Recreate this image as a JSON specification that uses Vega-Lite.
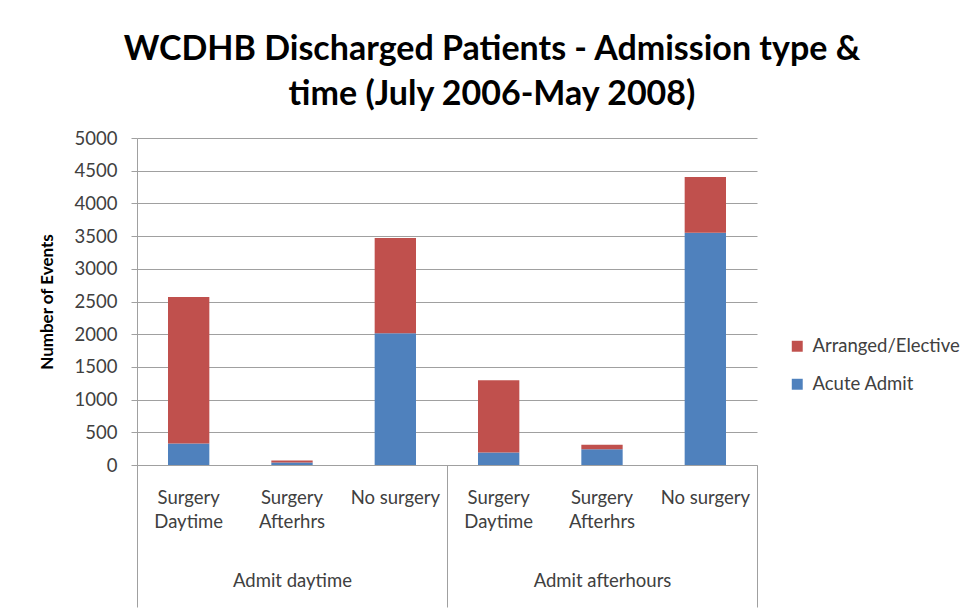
{
  "$schema": "https://vega.github.io/schema/vega-lite/v6.json",
  "width": 620,
  "height": 327,
  "autosize": {"type": "none"},
  "padding": {"left": 137, "top": 138, "right": 214, "bottom": 147},
  "background": "white",
  "config": {
    "font": "Lato",
    "view": {"stroke": null}
  },
  "title": {
    "text": ["WCDHB Discharged Patients - Admission type &", "time (July 2006-May 2008)"],
    "font": "Lato",
    "fontSize": 34,
    "fontWeight": "bold",
    "color": "#000000",
    "anchor": "middle",
    "frame": "group",
    "dx": 45,
    "offset": 17,
    "lineHeight": 45
  },
  "data": {
    "values": [
      {"admit": "Admit daytime", "surgery": "Surgery Daytime", "slot": "Admit daytime / Surgery Daytime", "type": "Acute Admit", "events": 330},
      {"admit": "Admit daytime", "surgery": "Surgery Daytime", "slot": "Admit daytime / Surgery Daytime", "type": "Arranged/Elective", "events": 2240},
      {"admit": "Admit daytime", "surgery": "Surgery Afterhrs", "slot": "Admit daytime / Surgery Afterhrs", "type": "Acute Admit", "events": 40},
      {"admit": "Admit daytime", "surgery": "Surgery Afterhrs", "slot": "Admit daytime / Surgery Afterhrs", "type": "Arranged/Elective", "events": 30},
      {"admit": "Admit daytime", "surgery": "No surgery", "slot": "Admit daytime / No surgery", "type": "Acute Admit", "events": 2015},
      {"admit": "Admit daytime", "surgery": "No surgery", "slot": "Admit daytime / No surgery", "type": "Arranged/Elective", "events": 1455},
      {"admit": "Admit afterhours", "surgery": "Surgery Daytime", "slot": "Admit afterhours / Surgery Daytime", "type": "Acute Admit", "events": 190},
      {"admit": "Admit afterhours", "surgery": "Surgery Daytime", "slot": "Admit afterhours / Surgery Daytime", "type": "Arranged/Elective", "events": 1105},
      {"admit": "Admit afterhours", "surgery": "Surgery Afterhrs", "slot": "Admit afterhours / Surgery Afterhrs", "type": "Acute Admit", "events": 240},
      {"admit": "Admit afterhours", "surgery": "Surgery Afterhrs", "slot": "Admit afterhours / Surgery Afterhrs", "type": "Arranged/Elective", "events": 70},
      {"admit": "Admit afterhours", "surgery": "No surgery", "slot": "Admit afterhours / No surgery", "type": "Acute Admit", "events": 3550},
      {"admit": "Admit afterhours", "surgery": "No surgery", "slot": "Admit afterhours / No surgery", "type": "Arranged/Elective", "events": 855}
    ]
  },
  "layer": [
    {
      "mark": {"type": "bar"},
      "encoding": {
        "x": {
          "field": "slot",
          "type": "nominal",
          "sort": null,
          "scale": {"paddingInner": 0.6, "paddingOuter": 0.3},
          "axis": {
            "orient": "bottom",
            "title": null,
            "ticks": false,
            "domain": true,
            "domainColor": "#a0a0a0",
            "labelAngle": 0,
            "labelFontSize": 18.5,
            "labelColor": "#404040",
            "labelPadding": 23,
            "labelLineHeight": 24,
            "labelExpr": "split(datum.label, ' / ')[1] == 'No surgery' ? 'No surgery' : split(split(datum.label, ' / ')[1], ' ')"
          }
        },
        "y": {
          "field": "events",
          "type": "quantitative",
          "stack": "zero",
          "scale": {"domain": [0, 5000]},
          "axis": {
            "title": "Number of Events",
            "titleFontSize": 17,
            "titleFontWeight": "bold",
            "titleColor": "#000000",
            "titlePadding": 18,
            "format": "d",
            "values": [0, 500, 1000, 1500, 2000, 2500, 3000, 3500, 4000, 4500, 5000],
            "labelFontSize": 18.5,
            "labelColor": "#404040",
            "labelPadding": 14,
            "tickSize": 6,
            "tickColor": "#a0a0a0",
            "domainColor": "#a0a0a0",
            "gridColor": "#a0a0a0",
            "gridWidth": 1
          }
        },
        "color": {
          "field": "type",
          "type": "nominal",
          "scale": {"domain": ["Arranged/Elective", "Acute Admit"], "range": ["#C0504D", "#4F81BD"]},
          "legend": {
            "title": null,
            "orient": "none",
            "legendX": 651,
            "legendY": 199,
            "symbolType": "square",
            "symbolSize": 120,
            "symbolStrokeWidth": 0,
            "symbolOpacity": 1,
            "labelFontSize": 18.5,
            "labelColor": "#404040",
            "labelOffset": 6,
            "rowPadding": 19
          }
        },
        "order": {"field": "type", "sort": "ascending"}
      }
    },
    {
      "mark": {"type": "rule", "opacity": 0},
      "encoding": {
        "x": {
          "field": "admit",
          "type": "nominal",
          "sort": null,
          "scale": {"paddingInner": 0, "paddingOuter": 0},
          "axis": {
            "orient": "bottom",
            "title": null,
            "domain": false,
            "grid": false,
            "ticks": true,
            "tickBand": "extent",
            "tickSize": 142,
            "tickColor": "#a0a0a0",
            "labelAngle": 0,
            "labelFontSize": 18.5,
            "labelColor": "#404040",
            "labelPadding": -36
          }
        }
      }
    }
  ],
  "resolve": {"scale": {"x": "independent"}}
}
